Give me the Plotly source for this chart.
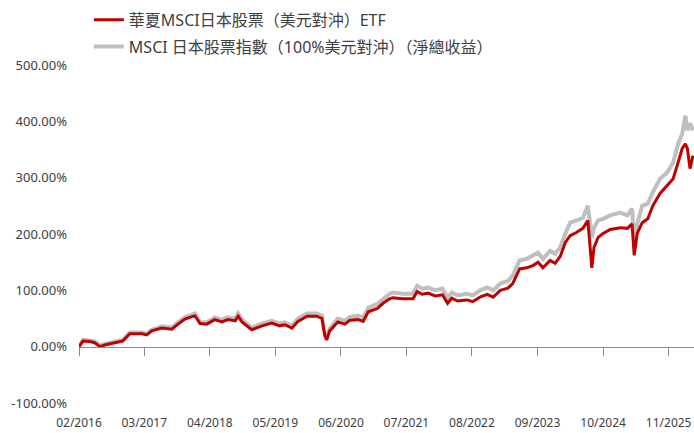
import plotly.graph_objects as go

# ---- data (cumulative return in %) ----
dates = [
    "2016-02-01", "2016-02-25", "2016-04-07", "2016-05-06", "2016-06-06", "2016-07-06",
    "2016-09-04", "2016-10-22", "2016-12-04", "2017-02-15", "2017-03-16", "2017-04-15",
    "2017-06-15", "2017-08-15", "2017-09-21", "2017-11-01", "2018-01-01", "2018-02-01",
    "2018-03-13", "2018-05-01", "2018-06-13", "2018-07-19", "2018-09-01", "2018-09-19",
    "2018-10-12", "2018-12-10", "2019-02-10", "2019-04-10", "2019-05-28", "2019-06-28",
    "2019-08-10", "2019-09-15", "2019-11-10", "2020-01-07", "2020-02-07", "2020-02-25",
    "2020-03-07", "2020-03-25", "2020-05-13", "2020-06-25", "2020-07-25", "2020-09-13",
    "2020-10-13", "2020-11-13", "2021-01-07", "2021-02-10", "2021-03-22", "2021-04-10",
    "2021-06-10", "2021-08-10", "2021-09-04", "2021-10-04", "2021-11-10", "2021-12-22",
    "2022-02-04", "2022-03-07", "2022-04-01", "2022-05-07", "2022-07-01", "2022-08-07",
    "2022-09-19", "2022-11-01", "2022-12-07", "2023-01-19", "2023-03-07", "2023-04-04",
    "2023-05-16", "2023-06-28", "2023-08-04", "2023-09-04", "2023-10-04", "2023-11-16",
    "2023-12-16", "2024-01-16", "2024-02-16", "2024-03-16", "2024-04-25", "2024-06-01",
    "2024-07-01", "2024-07-25", "2024-08-07", "2024-09-01", "2024-10-01", "2024-11-13",
    "2025-01-13", "2025-02-25", "2025-03-25", "2025-04-07", "2025-04-25", "2025-05-25",
    "2025-06-28", "2025-07-28", "2025-09-10", "2025-10-22", "2025-11-28", "2025-12-28",
    "2026-01-22", "2026-02-10", "2026-02-22", "2026-03-10", "2026-03-28",
]

etf_values = [
    0, 10, 9, 7, 0, 3,
    7, 10, 23, 23, 21, 28,
    33, 31, 40, 49, 55, 41,
    40, 48, 44, 48, 46, 54,
    44, 30, 37, 42, 37, 39,
    33, 45, 54, 54, 50, 19,
    12, 28, 44, 40, 47, 48,
    45, 62, 68, 77, 85, 87,
    85, 85, 98, 93, 95, 90,
    92, 77, 86, 81, 83, 80,
    88, 93, 88, 100, 104, 112,
    138, 140, 144, 150, 140, 153,
    148, 160, 185, 197, 203, 210,
    224, 140, 176, 194, 201, 208,
    211, 210, 218, 162, 201, 220,
    227, 250, 272, 286, 298, 327,
    352, 360, 352, 316, 339,
]

index_values = [
    0, 12, 11, 9, 2, 5,
    9, 12, 25, 25, 23, 30,
    36, 34, 43, 52, 59, 44,
    43, 52, 48, 52, 50, 59,
    48, 34, 41, 46, 41, 43,
    37, 50, 59, 59, 55, 23,
    16, 32, 50, 46, 53, 55,
    52, 69, 76, 85, 94, 96,
    94, 94, 108, 103, 105, 100,
    103, 87, 96, 91, 94, 91,
    100, 105, 100, 112, 117, 126,
    153, 156, 162, 167, 156, 170,
    165, 176, 201, 220, 224, 229,
    250, 194, 211, 224, 227, 233,
    238, 233, 245, 185, 218, 250,
    254, 274, 298, 309, 327, 360,
    378, 410, 384, 396, 384,
]

tick_dates = ["2016-02-01", "2017-03-01", "2018-04-01", "2019-05-01", "2020-06-01",
              "2021-07-01", "2022-08-01", "2023-09-01", "2024-10-01", "2025-11-01"]
tick_labels = ["02/2016", "03/2017", "04/2018", "05/2019", "06/2020",
               "07/2021", "08/2022", "09/2023", "10/2024", "11/2025"]

y_ticks = [-100, 0, 100, 200, 300, 400, 500]
y_tick_labels = ["-100.00%", "0.00%", "100.00%", "200.00%", "300.00%", "400.00%", "500.00%"]

etf_name = "華夏MSCI日本股票（美元對沖）ETF"
index_name = "MSCI 日本股票指數（100%美元對沖）（淨總收益）"

FONT = "Noto Sans, Noto Sans CJK TC, sans-serif"
TEXT = "#404040"

fig = go.Figure()
fig.add_trace(go.Scatter(
    x=dates, y=index_values, name=index_name, mode="lines",
    line=dict(color="#BFBFBF", width=4), legendrank=2, legendgroup="b",
    hoverinfo="skip",
))
fig.add_trace(go.Scatter(
    x=dates, y=etf_values, name=etf_name, mode="lines",
    line=dict(color="#C00000", width=3), legendrank=1, legendgroup="a",
    hoverinfo="skip",
))

y_min, y_max = -100, 500
zero_pos = (0 - y_min) / (y_max - y_min)

fig.update_layout(
    width=694, height=433,
    margin=dict(l=79, r=0, t=65, b=30, autoexpand=False),
    paper_bgcolor="white", plot_bgcolor="white",
    font=dict(family=FONT, size=12, color=TEXT),
    showlegend=True,
    legend=dict(
        x=0.016, y=1.184, xanchor="left", yanchor="top",
        font=dict(family=FONT, size=16, color=TEXT),
        traceorder="grouped", tracegroupgap=3,
        bgcolor="rgba(0,0,0,0)",
    ),
    xaxis=dict(
        type="date",
        range=["2016-02-01", "2026-04-03"],
        anchor="free", position=zero_pos,
        automargin=False,
        showline=True, linecolor="#8C8C8C", linewidth=1,
        ticks="outside", ticklen=8, tickcolor="#8C8C8C", tickwidth=1,
        tickvals=tick_dates, ticktext=tick_labels,
        ticklabelstandoff=57,
        showgrid=False, zeroline=False,
        tickfont=dict(family=FONT, size=12, color=TEXT),
    ),
    yaxis=dict(
        range=[y_min, y_max],
        automargin=False,
        tickvals=y_ticks, ticktext=y_tick_labels,
        showgrid=False, zeroline=False, showline=False,
        ticks="", ticklabelstandoff=11,
        tickfont=dict(family=FONT, size=13, color=TEXT),
    ),
)

fig.write_html(
    "out.html",
    config={"displayModeBar": False},
    post_script="document.body.style.margin='0';",
)
